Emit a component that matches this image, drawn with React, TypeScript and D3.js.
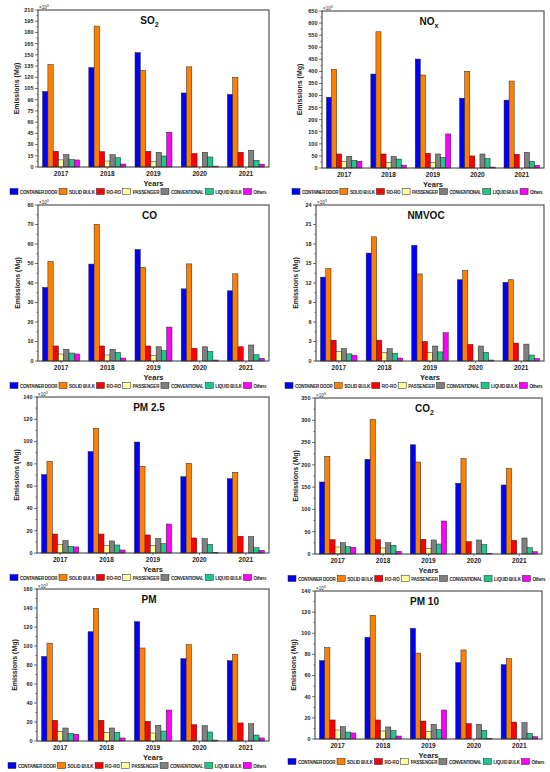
import React from 'react';
import * as d3 from 'd3';

const years = ['2017', '2018', '2019', '2020', '2021'];
const categories = ['CONTAINER DOOR', 'SOLID BULK', 'RO-RO', 'PASSENGER', 'CONVENTIONAL', 'LIQUID BULK', 'Others'];
const colors = ['#0000ff', '#ff8000', '#ff0000', '#ffffa0', '#808080', '#1fc88a', '#ff00ff'];

// rows = years, columns = categories (x10^3 Mg)
const so2 = [
  [101, 137, 21, 9.5, 16.5, 10, 9.4],
  [133, 188.5, 20.5, 8, 16.5, 12.5, 4],
  [153, 129, 21, 7.5, 19.7, 14.7, 46.5],
  [99, 134, 18, 0, 19.7, 13.4, 1.2],
  [97, 120, 19.7, 0, 22.3, 9, 3.8],
];
const nox = [
  [293, 408, 58, 26, 48, 32, 28],
  [389, 564, 58, 23.5, 48, 37, 12],
  [451, 385, 61, 22, 58, 44, 141],
  [289, 400, 50, 0, 58, 40, 4],
  [281, 360, 57, 0, 65, 28, 11],
];
const co = [
  [37.7, 51, 7.7, 3.6, 6, 4.1, 3.6],
  [49.7, 70.1, 7.7, 3.1, 6, 4.4, 1.5],
  [57.2, 48.1, 7.7, 2.9, 7.3, 5.3, 17.4],
  [37, 49.8, 6.5, 0, 7.3, 4.9, 0.5],
  [36, 44.7, 7.3, 0, 8.2, 3.2, 1.4],
];
const nmvoc = [
  [12.9, 14.2, 3.2, 1.5, 1.9, 1.1, 0.9],
  [16.6, 19.1, 3.2, 1.3, 1.9, 1.2, 0.46],
  [17.8, 13.4, 3.0, 1.3, 2.3, 1.4, 4.35],
  [12.5, 13.9, 2.56, 0, 2.3, 1.33, 0.15],
  [12.1, 12.5, 2.76, 0, 2.6, 0.92, 0.36],
];
const pm25 = [
  [70.3, 82.3, 17, 7.8, 11, 6, 5.4],
  [91, 112, 17, 6.6, 10.8, 7.2, 2.7],
  [99.6, 77.8, 16.2, 6.6, 12.9, 8.4, 26],
  [68.5, 80.5, 13.5, 0, 12.9, 7.8, 0.6],
  [66.7, 72.4, 15, 0, 14.7, 4.8, 2.4],
];
const co2 = [
  [161.5, 219, 32, 15.7, 25.4, 16.5, 15],
  [212.4, 302, 32, 13.5, 25.4, 19.4, 6],
  [245, 206.4, 33, 12.7, 31.4, 22.4, 74],
  [158.6, 214, 27.7, 0, 31.4, 21, 1.5],
  [154.8, 192, 30.7, 0, 35.9, 14.2, 5.2],
];
const pm = [
  [89, 103, 21.8, 10.2, 13.7, 8, 7],
  [115, 139.6, 21.8, 8.8, 13.7, 9.1, 3.2],
  [125.6, 97.9, 20.7, 8.4, 16.5, 10.5, 32.6],
  [86.7, 101.4, 17.2, 0, 16.1, 9.5, 1],
  [84.6, 91.2, 19, 0, 18.2, 6.3, 3.2],
];
const pm10 = [
  [74.1, 86.4, 18, 8.5, 11.7, 6.6, 5.7],
  [96.2, 117, 18, 7.6, 11.4, 7.9, 2.8],
  [104.7, 81.3, 17, 7.3, 13.9, 8.8, 27.4],
  [72.2, 84.2, 14.5, 0, 13.9, 8.2, 0.6],
  [70.3, 76, 16, 0, 15.4, 5.4, 2.2],
];

const titles = [
  { main: 'SO', sub: '2' },
  { main: 'NO', sub: 'x' },
  { main: 'CO', sub: '' },
  { main: 'NMVOC', sub: '' },
  { main: 'PM 2.5', sub: '' },
  { main: 'CO', sub: '2' },
  { main: 'PM', sub: '' },
  { main: 'PM 10', sub: '' },
];
const datasets = [so2, nox, co, nmvoc, pm25, co2, pm, pm10];
const yMax = [210, 650, 80, 24, 140, 350, 160, 140];
const yStep = [15, 50, 10, 3, 20, 50, 20, 20];

// layout: plot left, top, right, bottom, y-label x, legend y, legend left, legend right
const layouts = [
  { l: 38, t: 10, r: 269, b: 167, yl: 17, ly: 192, ll: 10, lr: 268 },
  { l: 322, t: 11, r: 544, b: 168, yl: 300, ly: 192, ll: 292, lr: 544 },
  { l: 38, t: 205, r: 269, b: 361, yl: 18, ly: 386, ll: 10, lr: 268 },
  { l: 316, t: 205, r: 544, b: 361, yl: 296, ly: 386, ll: 285, lr: 544 },
  { l: 37, t: 397, r: 269, b: 553, yl: 17, ly: 578, ll: 10, lr: 268 },
  { l: 315, t: 398, r: 542, b: 554, yl: 296, ly: 579, ll: 288, lr: 547 },
  { l: 37, t: 589, r: 269, b: 741, yl: 15, ly: 766, ll: 8, lr: 268 },
  { l: 315, t: 591, r: 542, b: 739, yl: 294, ly: 762, ll: 288, lr: 546 },
];
const legendFrac = [0, 0.19, 0.335, 0.437, 0.585, 0.757, 0.905, 1];

const FONT = "Arial, 'Liberation Sans', sans-serif";

function Panel({ idx }: { idx: number }) {
  const L = layouts[idx];
  const data = datasets[idx];
  const x = d3.scaleBand<string>().domain(years).range([L.l, L.r]).paddingInner(0.2).paddingOuter(0.1);
  const xi = d3.scaleBand<string>().domain(categories).range([0, x.bandwidth()]).padding(0);
  const y = d3.scaleLinear().domain([0, yMax[idx]]).range([L.b, L.t]);
  const majors = d3.range(0, yMax[idx] + yStep[idx] / 2, yStep[idx]);
  const minors = d3.range(yStep[idx] / 2, yMax[idx], yStep[idx]);
  const title = titles[idx];
  const lw = L.lr - L.ll;
  return (
    <g>
      {years.map((yr, yi) => (
        <g key={yr}>
          {categories.map((c, ci) => {
            const v = data[yi][ci];
            if (v <= 0) return null;
            const x0 = (x(yr) as number) + (xi(c) as number);
            return (
              <rect key={c} x={x0} y={y(v)} width={xi.bandwidth()} height={y(0) - y(v)}
                fill={colors[ci]} stroke="#222" strokeWidth={0.5} />
            );
          })}
        </g>
      ))}
      <rect x={L.l} y={L.t} width={L.r - L.l} height={L.b - L.t} fill="none" stroke="#333" strokeWidth={1} />
      {majors.map((m) => (
        <g key={'M' + m}>
          <line x1={L.l - 3} x2={L.l} y1={y(m)} y2={y(m)} stroke="#333" strokeWidth={0.7} />
          <text x={L.l - 4.5} y={y(m)} dy="0.35em" textAnchor="end" fontSize={5.5} fontWeight="bold" fontFamily={FONT} fill="#222">{m}</text>
        </g>
      ))}
      {minors.map((m) => (
        <line key={'m' + m} x1={L.l - 1.6} x2={L.l} y1={y(m)} y2={y(m)} stroke="#333" strokeWidth={0.6} />
      ))}
      {years.map((yr) => {
        const cx = (x(yr) as number) + x.bandwidth() / 2;
        return (
          <g key={'t' + yr}>
            <line x1={cx} x2={cx} y1={L.b} y2={L.b + 2} stroke="#333" strokeWidth={0.7} />
            <text x={cx} y={L.b + 9} textAnchor="middle" fontSize={6.5} fontWeight="bold" fontFamily={FONT} fill="#222">{yr}</text>
          </g>
        );
      })}
      <text x={L.l + 1} y={L.t - 1.5} fontSize={4.5} fontFamily={FONT} fill="#222">×10<tspan dy={-1.5} fontSize={3.5}>3</tspan></text>
      <text x={(L.l + L.r) / 2 - 4} y={L.t + 14} textAnchor="middle" fontSize={10} fontWeight="bold" fontFamily={FONT} fill="#111">
        {title.main}
        {title.sub ? <tspan dy={2.5} fontSize={7}>{title.sub}</tspan> : null}
      </text>
      <text x={(L.l + L.r) / 2} y={L.b + 19} textAnchor="middle" fontSize={7.5} fontWeight="bold" fontFamily={FONT} fill="#222">Years</text>
      <text transform={`translate(${L.yl},${(L.t + L.b) / 2}) rotate(-90)`} textAnchor="middle" dy="0.35em" fontSize={7} fontWeight="bold" fontFamily={FONT} fill="#222">Emissions (Mg)</text>
      {categories.map((c, ci) => {
        const lx = L.ll + legendFrac[ci] * lw;
        const avail = (legendFrac[ci + 1] - legendFrac[ci]) * lw - 11.5;
        return (
          <g key={'lg' + c}>
            <rect x={lx} y={L.ly - 3.5} width={8} height={6} fill={colors[ci]} stroke="#222" strokeWidth={0.5} />
            <text x={lx + 10} y={L.ly} dy="0.35em" fontSize={4.5} textLength={avail} lengthAdjust="spacing" fontWeight="bold" fontFamily={FONT} fill="#222">{c}</text>
          </g>
        );
      })}
    </g>
  );
}

export default function App() {
  return (
    <svg width={550} height={772} style={{ position: 'absolute', left: 0, top: 0, background: '#fff' }}>
      <rect x={0} y={0} width={550} height={772} fill="#fff" />
      {layouts.map((_, i) => <Panel key={i} idx={i} />)}
    </svg>
  );
}
